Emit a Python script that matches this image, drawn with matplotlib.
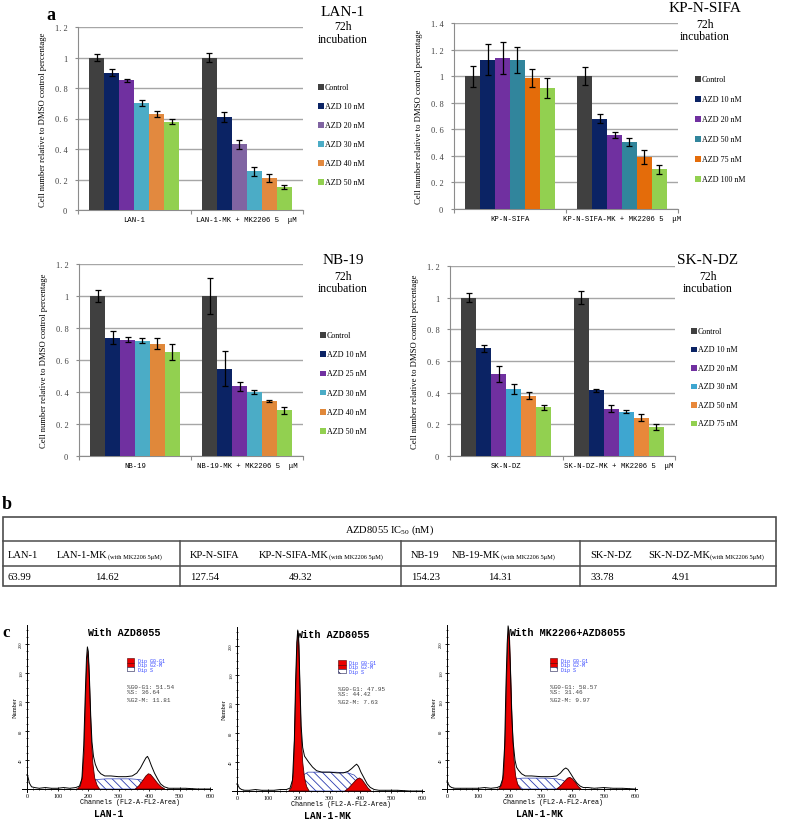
import numpy as np
import matplotlib.pyplot as plt
from matplotlib.patches import Rectangle
from matplotlib.ticker import MultipleLocator

plt.rcParams['font.family'] = ['Liberation Serif', 'DejaVu Serif']
plt.rcParams['mathtext.fontset'] = 'custom'
plt.rcParams['mathtext.rm'] = 'Liberation Serif'
plt.rcParams['hatch.linewidth'] = 0.6

W, H = 785, 820
MONO = ['Liberation Mono', 'DejaVu Sans Mono']

# ---- panel a: proliferation bars (rows = cell line alone / + MK2206) ----
lan1_groups = ['LAN-1', 'LAN-1-MK + MK2206 5  μM']
lan1_labels = ['Control', 'AZD 10 nM', 'AZD 20 nM', 'AZD 30 nM', 'AZD 40 nM', 'AZD 50 nM']
lan1_vals = [[1.00, 0.90, 0.85, 0.70, 0.63, 0.58], [1.00, 0.61, 0.43, 0.255, 0.21, 0.15]]
lan1_err = [[0.025, 0.022, 0.011, 0.02, 0.02, 0.016], [0.03, 0.03, 0.03, 0.03, 0.025, 0.013]]

kp_groups = ['KP-N-SIFA', 'KP-N-SIFA-MK + MK2206 5  μM']
kp_labels = ['Control', 'AZD 10 nM', 'AZD 20 nM', 'AZD 50 nM', 'AZD 75 nM', 'AZD 100 nM']
kp_vals = [[1.00, 1.125, 1.135, 1.12, 0.985, 0.91], [1.00, 0.68, 0.555, 0.505, 0.39, 0.30]]
kp_err = [[0.08, 0.115, 0.122, 0.10, 0.07, 0.075], [0.068, 0.033, 0.022, 0.03, 0.053, 0.033]]

nb_groups = ['NB-19', 'NB-19-MK + MK2206 5  μM']
nb_labels = ['Control', 'AZD 10 nM', 'AZD 25 nM', 'AZD 30 nM', 'AZD 40 nM', 'AZD 50 nM']
nb_vals = [[1.00, 0.74, 0.728, 0.72, 0.703, 0.65], [1.00, 0.545, 0.435, 0.40, 0.343, 0.285]]
nb_err = [[0.04, 0.04, 0.015, 0.015, 0.037, 0.047], [0.11, 0.11, 0.03, 0.015, 0.007, 0.02]]

sk_groups = ['SK-N-DZ', 'SK-N-DZ-MK + MK2206 5  μM']
sk_labels = ['Control', 'AZD 10 nM', 'AZD 20 nM', 'AZD 30 nM', 'AZD 50 nM', 'AZD 75 nM']
sk_vals = [[1.00, 0.68, 0.52, 0.423, 0.382, 0.308], [1.00, 0.415, 0.30, 0.28, 0.243, 0.185]]
sk_err = [[0.03, 0.022, 0.05, 0.03, 0.02, 0.016], [0.04, 0.01, 0.025, 0.008, 0.02, 0.02]]

lan1_colors = [['#404040', '#0b2364', '#7030a0', '#4bacc6', '#e2893f', '#92d050'],
               ['#404040', '#0b2364', '#8064a2', '#4bacc6', '#e2893f', '#92d050']]
kp_colors = [['#404040', '#0b2364', '#7030a0', '#31859c', '#e46c0a', '#92d050']] * 2
nb_colors = [['#404040', '#0b2364', '#7030a0', '#4bacc6', '#e0883a', '#92d050']] * 2
sk_colors = [['#404040', '#0b2364', '#7030a0', '#3ea6d0', '#e8883a', '#92d050']] * 2

# ---- panel b: IC50 table ----
cell_lines = ['LAN-1', 'KP-N-SIFA', 'NB-19', 'SK-N-DZ']
ic50_azd = [63.99, 127.54, 154.23, 33.78]
ic50_combo = [14.62, 49.32, 14.31, 4.91]

# ---- panel c: cell cycle histograms (channel, count) ----
fc1_tot_ch = [0, 3, 8, 15, 25, 40, 60, 80, 100, 120, 140, 160, 172, 180, 186, 191, 195, 198, 201, 205,
              209, 213, 218, 224, 232, 242, 255, 275, 300, 325, 345, 360, 372, 382, 390, 395, 400, 408,
              418, 428, 438, 450, 465, 490, 520, 560, 600]
fc1_tot_n = [20, 17, 8, 3, 2, 1, 2, 1, 1, 2, 1, 2, 4, 14, 60, 130, 180, 196, 190, 150,
             100, 65, 45, 34, 26, 21, 18, 18, 17, 17, 18, 22, 29, 37, 43, 45, 41, 32,
             22, 14, 7, 3, 1, 1, 1, 0, 0]
fc1_g1_ch = [165, 175, 182, 187, 191, 195, 199, 203, 207, 211, 216, 222, 230, 238]
fc1_g1_n = [0, 4, 18, 50, 110, 165, 190, 170, 120, 70, 35, 15, 5, 0]
fc1_g2_ch = [355, 368, 380, 390, 398, 405, 415, 428, 440, 452]
fc1_g2_n = [0, 5, 12, 18, 21, 20, 15, 8, 3, 0]
fc1_s_ch = [195, 210, 225, 260, 300, 340, 370, 395, 415, 432]
fc1_s_n = [0, 8, 13, 14, 14, 14, 13, 10, 4, 0]

fc2_tot_ch = [0, 3, 8, 15, 25, 40, 60, 80, 100, 120, 140, 160, 172, 180, 186, 190, 194, 197, 200, 204,
              208, 213, 219, 224, 232, 245, 258, 275, 300, 325, 345, 360, 372, 382, 388, 394, 402, 412,
              422, 432, 445, 460, 490, 520, 560, 600]
fc2_tot_n = [10, 8, 4, 2, 1, 1, 2, 1, 1, 1, 2, 2, 4, 15, 70, 150, 205, 222, 210, 150,
             90, 60, 48, 45, 40, 33, 28, 26, 26, 25, 25, 27, 31, 35, 37, 34, 26, 18,
             10, 5, 2, 1, 1, 1, 0, 0]
fc2_g1_ch = [168, 177, 183, 187, 191, 195, 198, 201, 204, 208, 213, 219, 226, 234]
fc2_g1_n = [0, 5, 25, 80, 150, 205, 218, 200, 140, 80, 40, 18, 6, 0]
fc2_g2_ch = [350, 362, 375, 388, 397, 405, 415, 425, 435]
fc2_g2_n = [0, 4, 10, 16, 18, 16, 10, 4, 0]
fc2_s_ch = [195, 205, 215, 230, 270, 320, 360, 380, 398, 412, 422]
fc2_s_n = [0, 10, 22, 26, 26, 26, 25, 22, 14, 5, 0]

fc3_tot_ch = [0, 3, 8, 15, 25, 40, 60, 80, 100, 120, 140, 160, 170, 178, 184, 188, 192, 195, 198, 202,
              206, 211, 217, 222, 228, 238, 250, 270, 300, 330, 350, 362, 372, 379, 386, 395, 405, 415,
              425, 435, 450, 470, 500, 530, 560, 600]
fc3_tot_n = [11, 8, 4, 2, 1, 1, 1, 1, 1, 2, 1, 2, 4, 14, 60, 140, 200, 225, 218, 170,
             110, 65, 40, 30, 26, 21, 18, 18, 17, 17, 18, 22, 27, 29, 27, 21, 14, 8,
             4, 2, 2, 1, 2, 1, 1, 0]
fc3_g1_ch = [165, 174, 181, 186, 190, 194, 197, 200, 204, 208, 213, 219, 226, 235]
fc3_g1_n = [0, 5, 22, 75, 150, 205, 220, 205, 150, 90, 45, 18, 6, 0]
fc3_g2_ch = [350, 362, 374, 385, 392, 400, 410, 420, 428]
fc3_g2_n = [0, 4, 10, 15, 16, 14, 9, 3, 0]
fc3_s_ch = [195, 208, 222, 240, 280, 320, 350, 370, 385, 398, 410]
fc3_s_n = [0, 7, 14, 15, 15, 15, 14, 12, 8, 3, 0]

fc1_stats = ['%G0-G1: 51.54', '%S: 36.64', '%G2-M: 11.81']
fc2_stats = ['%G0-G1: 47.95', '%S: 44.42', '%G2-M: 7.63']
fc3_stats = ['%G0-G1: 58.57', '%S: 31.46', '%G2-M: 9.97']

fig = plt.figure(figsize=(W / 100, H / 100), dpi=100)
ov = fig.add_axes([0, 0, 1, 1], zorder=10)
ov.set_xlim(0, W)
ov.set_ylim(H, 0)
ov.axis('off')


def px_axes(left, top, right, bottom):
    return fig.add_axes([left / W, 1 - bottom / H, (right - left) / W, (bottom - top) / H])


def tick_fmt(t):
    if abs(t - round(t)) < 1e-6:
        return str(int(round(t)))
    return f'{t:.1f}'.replace('.', '. ')


def bar_chart(box, ymax, groups, labels, vals, errs, colors, leg, title_xy, title):
    ax = px_axes(*box)
    n = len(labels)
    w = 0.8 / n
    centers = np.arange(len(groups)) + 0.5
    for i in range(n):
        xs = centers - 0.4 + w * (i + 0.5)
        hs = [g[i] for g in vals]
        ax.bar(xs, hs, w, color=[c[i] for c in colors], zorder=3)
        ax.errorbar(xs, hs, yerr=[g[i] for g in errs], fmt='none', ecolor='black',
                    elinewidth=0.9, capsize=2.3, capthick=0.9, zorder=4)
    ax.set_xlim(0, len(groups))
    ax.set_ylim(0, ymax)
    ticks = np.arange(0, ymax + 0.001, 0.2)
    ax.set_yticks(ticks)
    ax.set_yticklabels([tick_fmt(t) for t in ticks])
    ax.yaxis.grid(True, color='#a6a6a6', lw=1)
    ax.set_axisbelow(True)
    for s in ('top', 'right'):
        ax.spines[s].set_visible(False)
    for s in ('left', 'bottom'):
        ax.spines[s].set_color('#8c8c8c')
    ax.set_xticks(range(len(groups) + 1))
    ax.set_xticklabels([])
    ax.set_xticks(centers, minor=True)
    ax.set_xticklabels(groups, minor=True, fontfamily=MONO, fontsize=5.2)
    ax.tick_params(axis='x', which='minor', length=0, pad=4.3)
    ax.tick_params(axis='x', which='major', length=3, color='#8c8c8c')
    ax.tick_params(axis='y', length=2.2, color='#8c8c8c', labelsize=6, labelcolor='#404040', pad=5.5)
    ax.set_ylabel('Cell number relative to DMSO control percentage', fontsize=6.2)
    ax.yaxis.set_label_coords(-31 / (box[2] - box[0]), 0.5)

    lx, ly0, ldy = leg
    for i, lab in enumerate(labels):
        yc = ly0 + i * ldy
        ov.add_patch(Rectangle((lx, yc - 2.8), 5.6, 5.6, color=colors[-1][i], lw=0))
        ov.text(lx + 7, yc, lab, fontsize=5.8, va='center', ha='left')

    tx, ty = title_xy
    ov.text(tx, ty[0], title, fontsize=11, ha='center', va='center')
    ov.text(tx, ty[1], '72h', fontsize=8.5, ha='center', va='center')
    ov.text(tx, ty[2], 'incubation', fontsize=8.5, ha='center', va='center')
    return ax


bar_chart((78, 28, 303, 211), 1.2, lan1_groups, lan1_labels, lan1_vals, lan1_err, lan1_colors,
          (318, 88, 19), (343, (12, 27, 40)), 'LAN-1')
bar_chart((454, 24, 678, 210), 1.4, kp_groups, kp_labels, kp_vals, kp_err, kp_colors,
          (695, 80, 20), (705, (8, 25, 37)), 'KP-N-SIFA')
bar_chart((79, 265, 303, 457), 1.2, nb_groups, nb_labels, nb_vals, nb_err, nb_colors,
          (320, 336, 19.2), (343, (261, 277, 289)), 'NB-19')
bar_chart((450, 267, 675, 457), 1.2, sk_groups, sk_labels, sk_vals, sk_err, sk_colors,
          (691, 332, 18.5), (708, (261, 277, 289)), 'SK-N-DZ')

ov.text(51, 15, 'a', fontsize=13, fontweight='bold', ha='center', va='center')
ov.text(7, 505, 'b', fontsize=13, fontweight='bold', ha='center', va='center')
ov.text(6, 633, 'c', fontsize=12, fontweight='bold', ha='center', va='center')

# ---- table ----
tcol = '#4d4d4d'
tl, tr, ty0, ty1, ty2, ty3 = 3, 776, 518, 542, 567, 587
ov.add_patch(Rectangle((tl, ty0), tr - tl, ty3 - ty0, fill=False, ec=tcol, lw=1.2))
ov.plot([tl, tr], [ty1, ty1], color=tcol, lw=1.1)
ov.plot([tl, tr], [ty2, ty2], color=tcol, lw=1.1)
for xd in (180, 401, 580):
    ov.plot([xd, xd], [ty1, ty3], color=tcol, lw=1.1)
ov.text(390, 530, r'AZD8055 IC$_{\mathrm{50}}$ (nM)', fontsize=7.6, ha='center', va='center')

name_x = [8, 190, 411, 590]
mk_x = [57, 259, 452, 648]
val2_x = [95, 289, 488, 672]
renderer = fig.canvas.get_renderer()
for i, cl in enumerate(cell_lines):
    ov.text(name_x[i], 556, cl, fontsize=7.6, va='center')
    t = ov.text(mk_x[i], 556, cl + '-MK', fontsize=7.6, va='center')
    x_end = t.get_window_extent(renderer).x1
    ov.text(x_end, 557, '(with MK2206 5μM)', fontsize=4.6, va='center')
    ov.text(name_x[i], 578, f'{ic50_azd[i]:.2f}', fontsize=7.6, va='center')
    ov.text(val2_x[i], 578, f'{ic50_combo[i]:.2f}', fontsize=7.6, va='center')


# ---- panel c ----
def flow_chart(x0, x600, base, tot, g1, g2, s, title, title_x, name, stats):
    sx = (x600 - x0) / 600
    sy = 29 / 40
    ax = px_axes(x0 - 15 * sx, base - 226 * sy, x0 + 605 * sx, base + 4 * sy)
    ax.set_facecolor('none')
    ax.set_xlim(-15, 605)
    ax.set_ylim(-4, 226)
    ax.fill(s[0], s[1], facecolor='white', edgecolor='#2b3bb0', hatch='\\\\\\\\', lw=0.5, zorder=2)
    ax.fill(g1[0], g1[1], facecolor='#ea0000', edgecolor='#500000', lw=0.6, zorder=3)
    ax.fill(g2[0], g2[1], facecolor='#ea0000', edgecolor='#500000', lw=0.6, zorder=3)
    ax.plot(tot[0], tot[1], color='black', lw=0.7, zorder=4)

    for sp in ('top', 'right'):
        ax.spines[sp].set_visible(False)
    ax.spines['left'].set_position(('data', 0))
    ax.spines['bottom'].set_position(('data', 0))
    for sp in ('left', 'bottom'):
        ax.spines[sp].set_linewidth(0.7)
    ax.set_xticks(range(0, 601, 100))
    ax.xaxis.set_minor_locator(MultipleLocator(20))
    ax.set_yticks(range(40, 201, 40))
    ax.yaxis.set_minor_locator(MultipleLocator(10))
    ax.tick_params(direction='inout', length=3.5, width=0.6, labelsize=4.3, pad=1)
    ax.tick_params(which='minor', direction='inout', length=2, width=0.5)
    ax.set_yticklabels([str(v) for v in range(40, 201, 40)], rotation=90, fontsize=3.2, va='center')

    ax.text(title_x, 0.96, title, transform=ax.transAxes, ha='center', va='center',
            fontsize=7.3, fontweight='bold', family=MONO, zorder=5)
    ax.text(0.57, -0.06, 'Channels (FL2-A-FL2-Area)', transform=ax.transAxes, ha='center',
            va='center', fontsize=4.9, family=MONO)
    ax.text(0.5 if name != 'LAN-1' else 0.458, -0.127, name, transform=ax.transAxes, ha='center',
            va='center', fontsize=7, fontweight='bold', family=MONO)
    ax.text(-0.04, 0.51, 'Number', transform=ax.transAxes, rotation=90, ha='center',
            va='center', fontsize=4.5)

    lx = 0.555
    ax.add_patch(Rectangle((lx, 0.775), 0.037, 0.026, transform=ax.transAxes, fc='#ea0000',
                           ec='#500000', lw=0.4, clip_on=False))
    ax.add_patch(Rectangle((lx, 0.749), 0.037, 0.026, transform=ax.transAxes, fc='#ea0000',
                           ec='#500000', lw=0.4, clip_on=False))
    ax.add_patch(Rectangle((lx, 0.723), 0.037, 0.026, transform=ax.transAxes, fc='white',
                           ec='#1a1a50', lw=0.4, hatch='\\\\\\', clip_on=False))
    for k, lab in enumerate(['Dip G0-G1', 'Dip G2-M', 'Dip S']):
        ax.text(lx + 0.055, 0.79 - k * 0.027, lab, transform=ax.transAxes, fontsize=3.6,
                color='#3344ff', family=MONO, va='center')
    for k, (st, yy) in enumerate(zip(stats, (0.635, 0.605, 0.555))):
        ax.text(lx, yy, st, transform=ax.transAxes, fontsize=4.3, color='#404040',
                family=MONO, va='center')
    return ax


flow_chart(27, 210, 790, (fc1_tot_ch, fc1_tot_n), (fc1_g1_ch, fc1_g1_n), (fc1_g2_ch, fc1_g2_n),
           (fc1_s_ch, fc1_s_n), 'With AZD8055', 0.535, 'LAN-1', fc1_stats)
flow_chart(237, 422, 792, (fc2_tot_ch, fc2_tot_n), (fc2_g1_ch, fc2_g1_n), (fc2_g2_ch, fc2_g2_n),
           (fc2_s_ch, fc2_s_n), 'With AZD8055', 0.527, 'LAN-1-MK', fc2_stats)
flow_chart(447, 635, 790, (fc3_tot_ch, fc3_tot_n), (fc3_g1_ch, fc3_g1_n), (fc3_g2_ch, fc3_g2_n),
           (fc3_s_ch, fc3_s_n), 'With MK2206+AZD8055', 0.642, 'LAN-1-MK', fc3_stats)

fig.savefig('out.png', dpi=100, facecolor='white')
